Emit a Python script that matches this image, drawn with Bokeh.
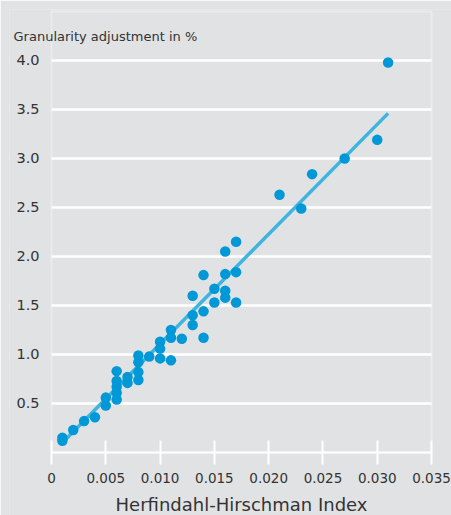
from bokeh.plotting import figure
from bokeh.models import Range1d, FixedTicker, Label, BoxAnnotation
from bokeh.embed import file_html
from bokeh.resources import INLINE

# Data
hhi = [0.001, 0.001, 0.002, 0.003, 0.004, 0.005, 0.005,
       0.006, 0.006, 0.006, 0.006, 0.006,
       0.007, 0.007,
       0.008, 0.008, 0.008, 0.008,
       0.009,
       0.010, 0.010, 0.010,
       0.011, 0.011, 0.011,
       0.012,
       0.013, 0.013, 0.013,
       0.014, 0.014, 0.014,
       0.015, 0.015,
       0.016, 0.016, 0.016, 0.016,
       0.017, 0.017, 0.017,
       0.021, 0.023, 0.024, 0.027, 0.030, 0.031]
granularity = [0.12, 0.15, 0.23, 0.32, 0.36, 0.56, 0.48,
               0.83, 0.73, 0.67, 0.61, 0.54,
               0.77, 0.71,
               0.99, 0.92, 0.82, 0.74,
               0.98,
               1.13, 1.06, 0.96,
               1.25, 1.17, 0.94,
               1.16,
               1.60, 1.40, 1.30,
               1.81, 1.44, 1.17,
               1.67, 1.53,
               2.05, 1.82, 1.65, 1.58,
               2.15, 1.84, 1.53,
               2.63, 2.49, 2.84, 3.00, 3.19, 3.98]

fit_x = [0.001, 0.031]
fit_y = [0.10, 3.46]

x_ticks = [0, 0.005, 0.010, 0.015, 0.020, 0.025, 0.030, 0.035]
x_tick_labels = ["0", "0.005", "0.010", "0.015", "0.020", "0.025", "0.030", "0.035"]
y_ticks = [0.5, 1.0, 1.5, 2.0, 2.5, 3.0, 3.5, 4.0]
y_tick_labels = ["0.5", "1.0", "1.5", "2.0", "2.5", "3.0", "3.5", "4.0"]

x_min, x_max = 0.0, 0.035
y_min, y_max = 0.0, 4.5

y_title = "Granularity adjustment in %"
x_title = "Herfindahl-Hirschman Index"

BG = "#e1e2e4"
TXT = "#333333"
FONT = "DejaVu Sans"

# The frame covers almost the whole canvas so that axis labels and titles sit inside it;
# the visible white box marks the actual data area (0..0.035, 0..4.5).
p = figure(width=451, height=515, x_range=Range1d(-0.00387, 0.03684), y_range=Range1d(-0.643, 4.52),
           output_backend="svg", toolbar_location=None,
           min_border_left=9, min_border_right=0, min_border_top=9, min_border_bottom=0)
p.background_fill_color = BG
p.border_fill_color = BG
p.outline_line_color = None

p.xgrid.grid_line_color = None
p.ygrid.grid_line_color = "white"
p.ygrid.grid_line_width = 2.5
p.ygrid.ticker = FixedTicker(ticks=y_ticks)

# hide grid lines outside 0 <= x <= 0.035
p.add_layout(BoxAnnotation(right=x_min, fill_color=BG, fill_alpha=1, line_color=None, level="underlay"))
p.add_layout(BoxAnnotation(left=x_max, fill_color=BG, fill_alpha=1, line_color=None, level="underlay"))
# white frame around the data area
p.add_layout(BoxAnnotation(left=x_min, right=x_max, bottom=y_min, top=y_max, fill_color=None,
                           fill_alpha=0, line_color="white", line_width=2, level="underlay"))

xa = p.xaxis[0]
xa.fixed_location = y_min
xa.bounds = (x_min, x_max)
xa.ticker = FixedTicker(ticks=x_ticks)
xa.major_label_overrides = dict(zip(x_ticks, x_tick_labels))
xa.axis_line_color = "white"
xa.axis_line_width = 2
xa.major_tick_line_color = "white"
xa.major_tick_line_width = 2
xa.major_tick_in = 12
xa.major_tick_out = 12
xa.minor_tick_line_color = None
xa.major_label_text_font = FONT
xa.major_label_text_font_size = "13.5px"
xa.major_label_text_color = TXT
xa.major_label_standoff = 9

ya = p.yaxis[0]
ya.fixed_location = x_min
ya.ticker = FixedTicker(ticks=y_ticks)
ya.major_label_overrides = dict(zip(y_ticks, y_tick_labels))
ya.axis_line_color = None
ya.major_tick_line_color = None
ya.minor_tick_line_color = None
ya.major_label_standoff = 6
ya.major_label_text_font = FONT
ya.major_label_text_font_size = "14.5px"
ya.major_label_text_color = TXT

p.line(fit_x, fit_y, line_color="#3fb4df", line_width=3.5)
p.scatter(hhi, granularity, size=10.5, fill_color="#0098d7", line_color=None)

p.add_layout(Label(x=-0.0035, y=4.24, text=y_title, text_baseline="alphabetic",
                   text_font=FONT, text_font_size="13px", text_color=TXT))
p.add_layout(Label(x=0.0175, y=1, y_units="screen", text=x_title, text_align="center",
                   text_baseline="bottom", text_font=FONT, text_font_size="18px", text_color=TXT))

open("out.html", "w").write(file_html(p, INLINE))
